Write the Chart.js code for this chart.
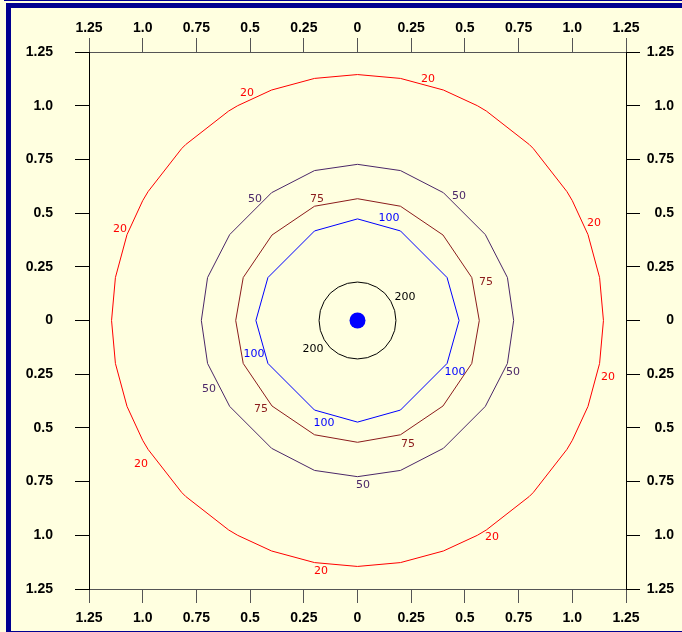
<!DOCTYPE html>
<html><head><meta charset="utf-8">
<script src="https://cdn.jsdelivr.net/npm/chart.js@4/dist/chart.umd.min.js"></script>
<style>html,body{margin:0;padding:0;background:#ffffe0;}canvas{display:block;}</style>
</head><body><canvas id="c" width="682" height="632"></canvas>
<script>
// ---- axis ticks ----
const tickValues = [-1.25,-1,-0.75,-0.5,-0.25,0,0.25,0.5,0.75,1,1.25];
const tickLabels = ["1.25","1.0","0.75","0.5","0.25","0","0.25","0.5","0.75","1.0","1.25"];

// ---- contour level 20 (red) ----
const c20x = [1.145,1.127,1.073,1.0,0.975,0.819,0.8,0.6,0.558,0.4,0.2,0,
  -0.2,-0.4,-0.558,-0.6,-0.8,-0.819,-0.975,-1.0,-1.073,-1.127,-1.145,
  -1.127,-1.073,-1.0,-0.975,-0.819,-0.8,-0.6,-0.558,-0.4,-0.2,0,
  0.2,0.4,0.558,0.6,0.8,0.819,0.975,1.0,1.073,1.127,1.145];
const c20y = [0,0.2,0.4,0.558,0.6,0.8,0.819,0.975,1.0,1.073,1.127,1.145,
  1.127,1.073,1.0,0.975,0.819,0.8,0.6,0.558,0.4,0.2,0,
  -0.2,-0.4,-0.558,-0.6,-0.8,-0.819,-0.975,-1.0,-1.073,-1.127,-1.145,
  -1.127,-1.073,-1.0,-0.975,-0.819,-0.8,-0.6,-0.558,-0.4,-0.2,0];
// ---- contour level 50 (purple) ----
const c50x = [0.727,0.698,0.595,0.4,0.2,0,-0.2,-0.4,-0.595,-0.698,-0.727,
  -0.698,-0.595,-0.4,-0.2,0,0.2,0.4,0.595,0.698,0.727];
const c50y = [0,0.2,0.4,0.595,0.698,0.727,0.698,0.595,0.4,0.2,0,
  -0.2,-0.4,-0.595,-0.698,-0.727,-0.698,-0.595,-0.4,-0.2,0];
// ---- contour level 75 (dark red) ----
const c75x = [0.567,0.532,0.398,0.2,0,-0.2,-0.398,-0.532,-0.567,
  -0.532,-0.398,-0.2,0,0.2,0.398,0.532,0.567];
const c75y = [0,0.2,0.398,0.532,0.567,0.532,0.398,0.2,0,
  -0.2,-0.398,-0.532,-0.567,-0.532,-0.398,-0.2,0];
// ---- contour level 100 (blue) ----
const c100x = [0.473,0.417,0.2,0,-0.2,-0.417,-0.473,-0.417,-0.2,0,0.2,0.417,0.473];
const c100y = [0,0.2,0.417,0.473,0.417,0.2,0,-0.2,-0.417,-0.473,-0.417,-0.2,0];
// ---- contour level 200 (black) ----
const c200x = [0.179,0.173,0.155,0.127,0.0895,0.046,0,-0.046,-0.0895,-0.127,-0.155,-0.173,
  -0.179,-0.173,-0.155,-0.127,-0.0895,-0.046,0,0.046,0.0895,0.127,0.155,0.173,0.179];
const c200y = [0,0.046,0.0895,0.127,0.155,0.173,0.179,0.173,0.155,0.127,0.0895,0.046,
  0,-0.046,-0.0895,-0.127,-0.155,-0.173,-0.179,-0.173,-0.155,-0.127,-0.0895,-0.046,0];
// ---- source point ----
const srcX = [0];
const srcY = [0];

// ---- contour labels ----
const lab20x = [0.328,-0.514,-1.106,1.101,1.166,-1.008,0.626,-0.170];
const lab20y = [1.124,1.059,0.426,0.454,-0.263,-0.668,-1.008,-1.166];
const lab50x = [-0.477,0.473,-0.691,0.724,0.026];
const lab50y = [0.566,0.580,-0.319,-0.240,-0.766];
const lab75x = [-0.189,0.598,-0.449,0.235];
const lab75y = [0.566,0.179,-0.412,-0.575];
const lab100x = [0.147,-0.482,-0.156,0.454];
const lab100y = [0.477,-0.156,-0.477,-0.240];
const lab200x = [0.221,-0.207];
const lab200y = [0.109,-0.133];

const COL20 = '#ff0000', COL50 = '#4b2768', COL75 = '#8b1c1c', COL100 = '#0000ff', COL200 = '#000000';

function pts(xs, ys){ return xs.map((x,i)=>({x:x, y:ys[i]})); }
function lineDs(xs, ys, col){
  return {type:'scatter', data:pts(xs,ys), showLine:true, borderColor:col, borderWidth:1,
          pointRadius:0, fill:false, tension:0, xAxisID:'x', yAxisID:'y'};
}
const labelGroups = [
  {xs:lab20x, ys:lab20y, text:'20', col:COL20},
  {xs:lab50x, ys:lab50y, text:'50', col:COL50},
  {xs:lab75x, ys:lab75y, text:'75', col:COL75},
  {xs:lab100x, ys:lab100y, text:'100', col:COL100},
  {xs:lab200x, ys:lab200y, text:'200', col:COL200}
];

const framePlugin = {
  id:'frame',
  beforeDraw(chart){
    const ctx = chart.ctx;
    ctx.save();
    ctx.fillStyle = '#ffffe0';
    ctx.fillRect(0,0,chart.width,chart.height);
    ctx.fillStyle = '#000090';
    ctx.fillRect(4,0,chart.width-4,1);
    ctx.fillRect(6,3,chart.width-6,5);
    ctx.fillRect(6,3,5,chart.height-3);
    ctx.fillRect(11,chart.height-1,chart.width-11,1);
    ctx.restore();
  },
  afterDatasetsDraw(chart){
    const ctx = chart.ctx, sx = chart.scales.x, sy = chart.scales.y;
    ctx.save();
    ctx.font = '11px "DejaVu Sans"';
    ctx.textAlign = 'center';
    ctx.textBaseline = 'middle';
    labelGroups.forEach(g=>{
      ctx.fillStyle = g.col;
      g.xs.forEach((x,i)=>{
        ctx.fillText(g.text, sx.getPixelForValue(x), sy.getPixelForValue(g.ys[i]));
      });
    });
    ctx.restore();
  }
};

function axis(pos, size, pad, col, extra){
  const horiz = (pos==='top'||pos==='bottom');
  return Object.assign({
    type:'linear', position:pos, min:-1.25, max:1.25,
    afterBuildTicks:s=>{ s.ticks = tickValues.map(v=>({value:v})); },
    afterFit:s=>{ if(horiz) s.height = size; else s.width = size; },
    grid:{drawOnChartArea:false, drawTicks:true, tickLength:14, color:col, tickColor:col, lineWidth:1},
    border:{display:true, color:col, width:1},
    ticks:{autoSkip:false, maxRotation:0, minRotation:0, padding:pad, color:'#000',
           font:{family:'"Liberation Sans", Arial, sans-serif', size:14, weight:'bold'},
           callback:(v,i)=>tickLabels[i]}
  }, extra||{});
}

new Chart(document.getElementById('c'), {
  type:'scatter',
  data:{datasets:[
    {type:'scatter', data:pts(srcX,srcY), pointRadius:8, pointBackgroundColor:'#0000ff',
     pointBorderWidth:0, showLine:false, xAxisID:'x', yAxisID:'y'},
    lineDs(c200x,c200y,COL200),
    lineDs(c100x,c100y,COL100),
    lineDs(c75x,c75y,COL75),
    lineDs(c50x,c50y,COL50),
    lineDs(c20x,c20y,COL20)
  ]},
  options:{
    responsive:false, animation:false, devicePixelRatio:1,
    layout:{padding:{left:0, right:8, top:0, bottom:0}},
    plugins:{legend:{display:false}, tooltip:{enabled:false}},
    scales:{
      x: axis('bottom', 43, 7, '#555'),
      x2: axis('top', 52, 1, '#555'),
      y: axis('left', 89, 22, '#000'),
      y2: axis('right', 48, 3, '#000', {ticks:{autoSkip:false, padding:3, color:'#000', crossAlign:'far',
           font:{family:'"Liberation Sans", Arial, sans-serif', size:14, weight:'bold'},
           callback:(v,i)=>tickLabels[i]}})
    }
  },
  plugins:[framePlugin]
});
</script>
</body></html>
